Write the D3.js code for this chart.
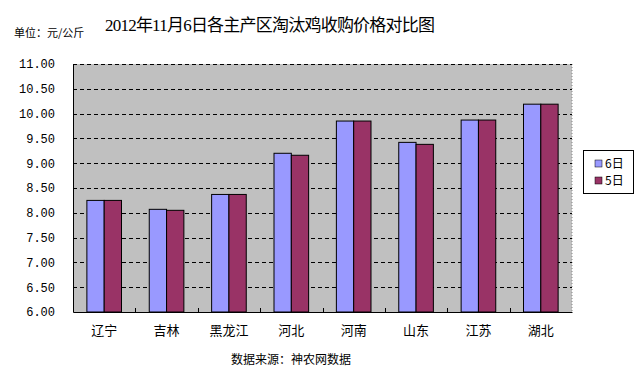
<!DOCTYPE html>
<html><head><meta charset="utf-8">
<script src="https://cdn.jsdelivr.net/npm/d3@7"></script>
<style>body{margin:0;background:#fff}svg{display:block}</style>
</head><body>
<svg id="c" width="644" height="372"></svg>
<script>
const categories = ["辽宁","吉林","黑龙江","河北","河南","山东","江苏","湖北"];
const seriesNames = ["6日","5日"];
const day6 = [8.25, 8.07, 8.37, 9.20, 9.85, 9.42, 9.87, 10.19];
const day5 = [8.25, 8.05, 8.37, 9.16, 9.85, 9.38, 9.87, 10.19];
const yTicks = [6.0,6.5,7.0,7.5,8.0,8.5,9.0,9.5,10.0,10.5,11.0];
const colors = ["#9999FF","#993366"];

const svg = d3.select("#c");
const L=73, R=572, T=64, B=312;
const x = d3.scaleBand().domain(categories).range([L,R]).paddingInner(0).paddingOuter(0);
const y = d3.scaleLinear().domain([6,11]).range([B,T]);
const groupW = x.bandwidth()*0.555;
const xs = d3.scaleBand().domain(seriesNames).range([0,groupW]);

svg.append("rect").attr("x",L).attr("y",T).attr("width",R-L).attr("height",B-T).attr("fill","#C0C0C0");
// right dotted border
svg.append("line").attr("x1",R).attr("x2",R).attr("y1",T).attr("y2",B).attr("stroke","#888").attr("stroke-dasharray","1,2");

// gridlines
svg.append("g").selectAll("line").data(yTicks.filter(d=>d>6)).join("line")
  .attr("x1",L).attr("x2",R).attr("y1",d=>Math.round(y(d))+0.5).attr("y2",d=>Math.round(y(d))+0.5)
  .attr("stroke","#000").attr("stroke-dasharray","4,3");

const data = categories.map((c,i)=>({c, vals:[day6[i],day5[i]]}));
const g = svg.append("g").selectAll("g").data(data).join("g")
  .attr("transform",d=>`translate(${x(d.c)+(x.bandwidth()-groupW)/2},0)`);
g.selectAll("rect").data(d=>d.vals.map((v,j)=>({v,s:seriesNames[j],j}))).join("rect")
  .attr("x",d=>xs(d.s)).attr("width",xs.bandwidth())
  .attr("y",d=>y(d.v)).attr("height",d=>B-y(d.v))
  .attr("fill",d=>colors[d.j]).attr("stroke","#000").attr("stroke-width",1);

// axes
const yAxis = d3.axisLeft(y).tickValues(yTicks).tickFormat(d3.format(".2f")).tickSize(0).tickPadding(18);
const ya = svg.append("g").attr("transform",`translate(${L},0)`).call(yAxis);
ya.select(".domain").attr("stroke","#000");
ya.selectAll("text").attr("font-family","Liberation Mono, DejaVu Sans Mono, monospace").attr("font-size","12px").attr("fill","#000");

const xa = svg.append("g").attr("transform",`translate(0,${B})`)
  .call(d3.axisBottom(x).tickSize(0).tickPadding(14));
xa.select(".domain").attr("stroke","#000");
xa.selectAll("text").attr("font-family","Noto Sans CJK SC, sans-serif").attr("font-size","13px").attr("fill","#000");
// category boundary ticks (inside)
svg.append("g").selectAll("line").data(categories.slice(1)).join("line")
  .attr("x1",d=>Math.round(x(d))+0.5).attr("x2",d=>Math.round(x(d))+0.5).attr("y1",B).attr("y2",B-4).attr("stroke","#000");

// title
svg.append("text").attr("x",105).attr("y",31).attr("textLength",330).attr("lengthAdjust","spacing")
  .attr("font-family","Liberation Serif, Noto Sans CJK SC, serif").attr("font-size","17px").attr("fill","#000")
  .text("2012年11月6日各主产区淘汰鸡收购价格对比图");
svg.append("text").attr("x",14).attr("y",37)
  .attr("font-family","Noto Sans CJK SC, sans-serif").attr("font-size","11px").attr("fill","#000")
  .text("单位：元/公斤");
svg.append("text").attr("x",291).attr("y",364).attr("text-anchor","middle")
  .attr("font-family","Noto Sans CJK SC, sans-serif").attr("font-size","12px").attr("fill","#000")
  .text("数据来源：神农网数据");

// legend
const lg = svg.append("g");
lg.append("rect").attr("x",583.5).attr("y",150.5).attr("width",50).attr("height",43).attr("fill","#fff").attr("stroke","#000");
const li = lg.selectAll("g").data(seriesNames).join("g").attr("transform",(d,i)=>`translate(595,${160+i*17})`);
li.append("rect").attr("width",7).attr("height",7).attr("fill",(d,i)=>colors[i]).attr("stroke","#000").attr("stroke-width",0.5);
li.append("text").attr("x",10).attr("y",8).attr("font-family","Noto Sans CJK SC, sans-serif").attr("font-size","12px").attr("fill","#000").text(d=>d);
</script>
</body></html>
